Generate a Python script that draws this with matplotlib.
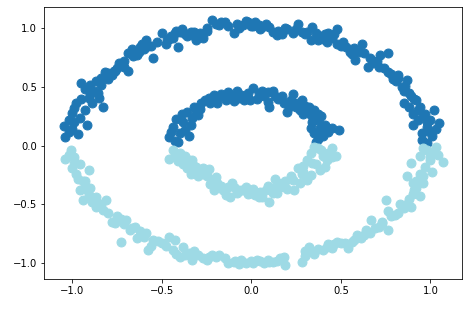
import matplotlib
matplotlib.use('Agg')
import matplotlib.pyplot as plt

# points, (x, y)
# outer ring, upper half (dark)
outer_top = [(-1.05, 0.17), (-1.04, 0.07), (-1.02, 0.12), (-1.0, 0.28), (-0.99, 0.20), (-0.98, 0.36),
             (-0.97, 0.10), (-0.95, 0.53), (-0.93, 0.30), (-0.92, 0.18), (-0.91, 0.41), (-0.90, 0.52),
             (-0.88, 0.47), (-0.85, 0.41), (-0.84, 0.52), (-0.83, 0.33), (-0.82, 0.63), (-0.80, 0.57),
             (-0.78, 0.60), (-0.75, 0.66), (-0.73, 0.69), (-0.71, 0.67), (-0.69, 0.64), (-0.69, 0.79),
             (-0.67, 0.82), (-0.64, 0.77), (-0.62, 0.84), (-0.61, 0.87), (-0.59, 0.90), (-0.55, 0.75),
             (-0.50, 0.96), (-0.48, 0.87), (-0.45, 0.93), (-0.43, 0.96), (-0.41, 0.84), (-0.39, 0.99),
             (-0.37, 0.95), (-0.36, 0.93), (-0.34, 0.97), (-0.32, 0.97), (-0.31, 0.90), (-0.27, 0.92),
             (-0.22, 1.07), (-0.20, 1.04), (-0.17, 1.05), (-0.15, 1.05), (-0.10, 0.96), (-0.08, 1.04),
             (-0.05, 1.03), (-0.02, 1.05), (0.02, 1.05), (0.04, 1.03), (0.06, 1.01), (0.10, 1.01),
             (0.12, 0.97), (0.14, 0.94), (0.23, 0.96), (0.26, 1.04), (0.28, 0.97), (0.30, 0.95),
             (0.33, 0.90), (0.34, 1.01), (0.36, 0.96), (0.38, 0.93), (0.40, 0.91), (0.43, 0.96),
             (0.45, 0.92), (0.48, 0.99), (0.48, 0.87), (0.50, 0.85), (0.53, 0.84), (0.56, 0.78),
             (0.58, 0.73), (0.62, 0.87), (0.63, 0.79), (0.65, 0.67), (0.68, 0.72), (0.71, 0.67),
             (0.72, 0.77), (0.76, 0.79), (0.76, 0.63), (0.79, 0.57), (0.82, 0.58), (0.85, 0.47),
             (0.87, 0.56), (0.86, 0.51), (0.89, 0.42), (0.92, 0.39), (0.88, 0.33), (0.85, 0.36),
             (0.90, 0.27), (0.93, 0.30), (0.96, 0.25), (0.98, 0.20), (1.02, 0.30), (0.90, 0.18),
             (0.95, 0.11), (0.98, 0.16), (1.05, 0.19), (0.95, 0.05), (1.01, 0.08), (0.98, 0.02),
             (0.93, 0.22), (1.0, 0.12), (-1.0, 0.14), (-0.96, 0.24), (-0.89, 0.36), (-0.86, 0.45),
             (-0.76, 0.64), (-0.58, 0.85), (-0.46, 0.91), (-0.40, 0.97), (-0.25, 1.0), (0.0, 1.02),
             (0.17, 0.95), (0.20, 0.99), (0.41, 0.95), (0.55, 0.80), (0.68, 0.70), (0.82, 0.60),
             (-1.02, 0.22), (-0.99, 0.32), (-0.95, 0.40), (-0.93, 0.48), (-0.90, 0.44), (-0.87, 0.55),
             (-0.84, 0.58), (-0.80, 0.62), (-0.77, 0.64), (-0.74, 0.70), (-0.71, 0.72), (-0.66, 0.76),
             (-0.63, 0.80), (-0.60, 0.82), (-0.56, 0.85), (-0.53, 0.88), (-0.47, 0.90), (-0.44, 0.92),
             (-0.42, 0.98), (-0.38, 0.97), (-0.33, 0.94), (-0.29, 0.96), (-0.25, 0.98), (-0.18, 1.03),
             (-0.13, 1.02), (-0.07, 1.00), (-0.03, 1.06), (0.01, 1.02), (0.05, 0.99), (0.08, 1.04),
             (0.15, 0.98), (0.19, 1.00), (0.25, 0.99), (0.31, 0.97), (0.37, 0.90), (0.42, 0.88),
             (0.46, 0.95), (0.51, 0.88), (0.57, 0.83), (0.60, 0.80), (0.66, 0.75), (0.70, 0.72),
             (0.74, 0.66), (0.78, 0.61), (0.81, 0.55), (0.84, 0.50), (0.88, 0.45), (0.91, 0.40),
             (0.94, 0.33), (0.97, 0.27), (1.0, 0.22), (1.03, 0.14)]

# inner ring, upper half (dark)
inner_top = [(-0.46, 0.07), (-0.44, 0.16), (-0.42, 0.23), (-0.40, 0.11), (-0.38, 0.20), (-0.36, 0.29),
             (-0.35, 0.08), (-0.33, 0.24), (-0.32, 0.33), (-0.29, 0.31), (-0.26, 0.39), (-0.23, 0.36),
             (-0.21, 0.43), (-0.19, 0.36), (-0.16, 0.42), (-0.14, 0.39), (-0.11, 0.43), (-0.08, 0.47),
             (-0.06, 0.43), (-0.04, 0.39), (-0.01, 0.39), (0.01, 0.49), (0.04, 0.45), (0.07, 0.42),
             (0.09, 0.46), (0.12, 0.47), (0.10, 0.33), (0.15, 0.40), (0.17, 0.42), (0.20, 0.29),
             (0.22, 0.39), (0.24, 0.36), (0.27, 0.30), (0.28, 0.39), (0.31, 0.30), (0.33, 0.26),
             (0.35, 0.30), (0.37, 0.22), (0.35, 0.11), (0.38, 0.15), (0.41, 0.18), (0.43, 0.12),
             (0.49, 0.13), (0.36, 0.03), (0.40, 0.08), (-0.41, 0.03), (-0.37, 0.13), (-0.30, 0.26),
             (0.30, 0.34), (0.25, 0.33), (0.39, 0.25), (-0.45, 0.12), (-0.43, 0.04), (-0.39, 0.27),
             (-0.34, 0.18), (-0.31, 0.28), (-0.28, 0.36), (-0.24, 0.41), (-0.20, 0.40), (-0.17, 0.44),
             (-0.13, 0.46), (-0.10, 0.38), (-0.07, 0.41), (-0.02, 0.45), (0.03, 0.40), (0.06, 0.47),
             (0.09, 0.37), (0.13, 0.42), (0.18, 0.36), (0.21, 0.33), (0.23, 0.44), (0.26, 0.36),
             (0.29, 0.27), (0.32, 0.33), (0.34, 0.20), (0.37, 0.27), (0.39, 0.10), (0.42, 0.15),
             (0.37, 0.06), (0.33, 0.15), (0.45, 0.15)]

# inner ring, lower half (light)
inner_bot = [(-0.46, -0.11), (-0.43, -0.08), (-0.40, -0.06), (-0.38, -0.16), (-0.35, -0.12), (-0.33, -0.12),
             (-0.34, -0.24), (-0.31, -0.18), (-0.29, -0.21), (-0.27, -0.24), (-0.25, -0.26), (-0.22, -0.29),
             (-0.19, -0.32), (-0.21, -0.38), (-0.16, -0.38), (-0.13, -0.35), (-0.11, -0.32), (-0.12, -0.44),
             (-0.08, -0.40), (-0.06, -0.38), (-0.03, -0.35), (-0.05, -0.38), (0.0, -0.40), (0.02, -0.42),
             (0.05, -0.39), (0.08, -0.38), (0.10, -0.48), (0.13, -0.28), (0.11, -0.36), (0.16, -0.35),
             (0.19, -0.30), (0.22, -0.26), (0.24, -0.38), (0.26, -0.19), (0.28, -0.24), (0.31, -0.29),
             (0.31, -0.12), (0.33, -0.06), (0.35, -0.01), (0.38, -0.21), (0.39, -0.04), (0.42, -0.12),
             (0.45, -0.02), (0.47, -0.09), (0.34, -0.15), (0.29, -0.17), (0.18, -0.32), (0.14, -0.40),
             (0.04, -0.44), (-0.36, -0.19), (-0.24, -0.20), (-0.44, -0.04), (-0.41, -0.13), (-0.37, -0.09),
             (-0.32, -0.17), (-0.30, -0.26), (-0.27, -0.19), (-0.23, -0.33), (-0.20, -0.27), (-0.17, -0.34),
             (-0.14, -0.42), (-0.09, -0.36), (-0.02, -0.41), (0.01, -0.37), (0.06, -0.44), (0.09, -0.34),
             (0.12, -0.40), (0.15, -0.32), (0.20, -0.37), (0.23, -0.29), (0.27, -0.32), (0.29, -0.22),
             (0.33, -0.25), (0.36, -0.16), (0.40, -0.09), (0.43, -0.06), (0.37, -0.02), (0.45, -0.10),
             (0.41, -0.18)]

# outer ring, lower half (light)
outer_bot = [(-1.04, -0.11), (-1.01, -0.04), (-1.00, -0.19), (-0.96, -0.16), (-0.91, -0.21), (-0.97, -0.28),
             (-0.96, -0.38), (-0.90, -0.36), (-0.94, -0.46), (-0.87, -0.44), (-0.81, -0.46), (-0.87, -0.52),
             (-0.83, -0.55), (-0.78, -0.65), (-0.73, -0.62), (-0.70, -0.63), (-0.65, -0.69), (-0.73, -0.82),
             (-0.64, -0.79), (-0.59, -0.74), (-0.55, -0.80), (-0.58, -0.89), (-0.46, -0.78), (-0.43, -0.80),
             (-0.44, -0.89), (-0.38, -0.86), (-0.40, -0.95), (-0.32, -0.90), (-0.33, -0.97), (-0.27, -0.96),
             (-0.22, -0.93), (-0.18, -0.93), (-0.13, -1.00), (-0.06, -0.97), (-0.03, -1.00), (0.03, -0.97),
             (0.07, -1.00), (0.12, -0.99), (0.18, -0.95), (0.19, -1.02), (0.28, -0.99), (0.32, -0.86),
             (0.35, -0.92), (0.40, -0.89), (0.45, -0.87), (0.48, -0.82), (0.54, -0.87), (0.57, -0.80),
             (0.61, -0.79), (0.66, -0.74), (0.67, -0.63), (0.71, -0.69), (0.76, -0.72), (0.75, -0.46),
             (0.76, -0.56), (0.80, -0.59), (0.85, -0.53), (0.89, -0.52), (0.90, -0.41), (0.94, -0.43),
             (0.90, -0.32), (0.87, -0.26), (0.94, -0.24), (0.89, -0.15), (0.96, -0.32), (1.01, -0.22),
             (0.94, -0.09), (0.98, -0.04), (1.03, -0.01), (1.07, -0.14), (1.02, -0.06), (-0.99, -0.10),
             (-0.93, -0.30), (-0.85, -0.50), (-0.76, -0.66), (-0.68, -0.72), (-0.50, -0.83), (-0.35, -0.91),
             (-0.24, -0.95), (-0.09, -0.98), (0.0, -0.98), (0.10, -0.99), (0.30, -0.90), (0.43, -0.84),
             (0.52, -0.83), (0.63, -0.76), (0.73, -0.66), (0.83, -0.50), (0.92, -0.36), (1.0, -0.12),
             (-1.02, -0.08), (-0.99, -0.14), (-0.98, -0.24), (-0.94, -0.30), (-0.93, -0.37), (-0.91, -0.42),
             (-0.89, -0.48), (-0.84, -0.50), (-0.80, -0.57), (-0.75, -0.60), (-0.71, -0.67), (-0.67, -0.70),
             (-0.62, -0.73), (-0.60, -0.78), (-0.56, -0.85), (-0.52, -0.81), (-0.48, -0.85), (-0.42, -0.92),
             (-0.37, -0.93), (-0.30, -0.93), (-0.25, -0.97), (-0.20, -0.95), (-0.15, -0.96), (-0.10, -0.99),
             (-0.07, -1.01), (0.01, -1.0), (0.05, -0.98), (0.09, -0.97), (0.14, -0.98), (0.16, -0.96),
             (0.30, -0.94), (0.33, -0.90), (0.37, -0.88), (0.42, -0.86), (0.46, -0.84), (0.50, -0.83),
             (0.56, -0.82), (0.59, -0.76), (0.64, -0.72), (0.69, -0.70), (0.73, -0.65), (0.78, -0.60),
             (0.82, -0.57), (0.87, -0.50), (0.88, -0.45), (0.91, -0.38), (0.92, -0.30), (0.96, -0.26),
             (0.97, -0.18), (1.00, -0.10), (1.04, -0.08), (0.96, -0.02)]

dark = '#1f77b4'
light = '#9edae5'

fig = plt.figure(figsize=(6.5, 309 / 72), dpi=72)
ax = fig.add_axes([44 / 468, 30 / 309, 418 / 468, 272 / 309])

for pts, col in [(outer_top, dark), (inner_top, dark), (outer_bot, light), (inner_bot, light)]:
    xs = [p[0] for p in pts]
    ys = [p[1] for p in pts]
    ax.scatter(xs, ys, c=col, s=80)

ax.set_xlim(-1.159, 1.176)
ax.set_ylim(-1.135, 1.181)
ax.set_xticks([-1.0, -0.5, 0.0, 0.5, 1.0])
ax.set_yticks([-1.0, -0.5, 0.0, 0.5, 1.0])

fig.savefig('out.png', dpi=72)
